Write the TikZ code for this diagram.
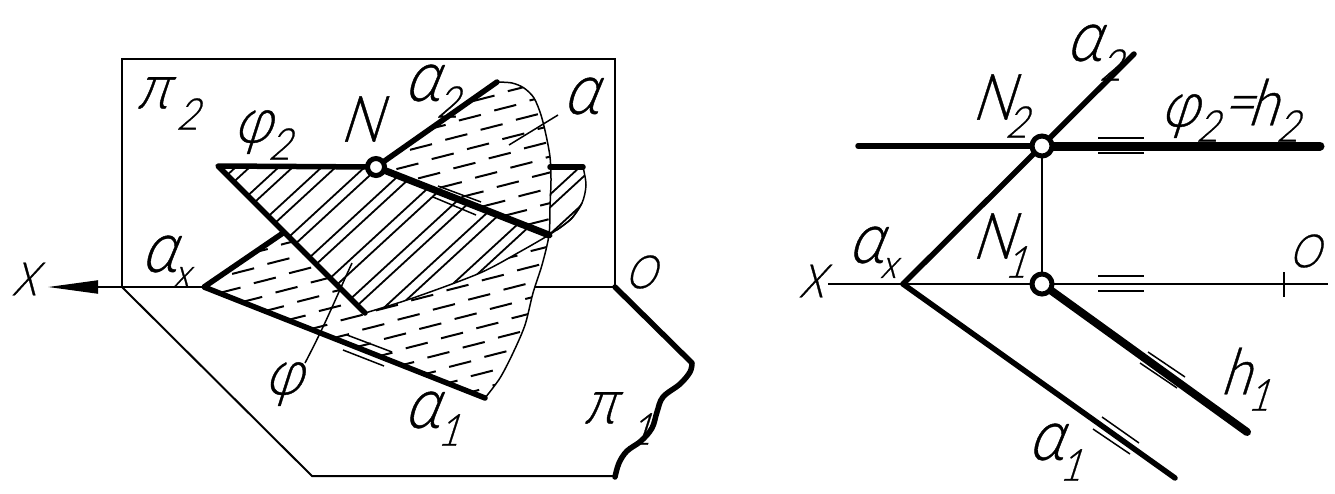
\documentclass[tikz,border=0pt]{standalone}
\usepackage{fontspec}
\usetikzlibrary{arrows.meta}
\newfontfamily\gost[FakeSlant=0.32,FakeStretch=0.85,FakeBold=0.6]{Lato Light}
\tikzset{
 thinl/.style={line width=2pt,line cap=butt},
 hair/.style={line width=1.5pt},
 thickl/.style={line width=5.5pt,line cap=round,line join=round},
 heavyl/.style={line width=9pt,line cap=round},
 hatchl/.style={line width=1.8pt},
 dashl/.style={line width=2pt},
 pt/.style={circle,draw,fill=white,line width=5pt,minimum size=20pt,inner sep=0pt},
 big/.style={inner sep=0pt,font=\gost\fontsize{64}{64}\selectfont},
 alf/.style={inner sep=0pt,font=\gost\fontsize{72}{72}\selectfont},
 sub/.style={inner sep=0pt,font=\gost\fontsize{44}{44}\selectfont},
 mid/.style={inner sep=0pt,font=\gost\fontsize{46}{46}\selectfont},
 nar/.style={inner sep=0pt,font=\gost\fontsize{46}{46}\selectfont},
 tiny/.style={inner sep=0pt,font=\gost\fontsize{40}{40}\selectfont},
}
\begin{document}
\begin{tikzpicture}[x=1pt,y=-1pt]
\useasboundingbox (0,0) rectangle (1335,493);
% ---------- left figure: key points
\coordinate (o) at (122,287); \coordinate (tl) at (122,59); \coordinate (tr) at (615,59);
\coordinate (ro) at (615,287); \coordinate (bl) at (312,476); \coordinate (br) at (615,476);
\coordinate (rr) at (692,363); \coordinate (ax) at (204,287); \coordinate (a2) at (497,82);
\coordinate (a1) at (485,398); \coordinate (f1) at (218,166); \coordinate (f2) at (365,313);
\coordinate (fr) at (583,167); \coordinate (fe) at (550,167); \coordinate (m) at (549,235);
\coordinate (a2c) at (283,233); \coordinate (ah) at (535,287); \coordinate (at) at (48,287);
% dashes, lower part of the plane
\begin{scope}
\clip (ax) -- (a2c) -- (f2) -- (413,298) -- (480,273) -- (523,250) -- (m) -- (542,265) -- (533,293) -- (525,325) -- (513,353) -- (500,378) -- (a1) -- cycle;
\foreach \m in {-8,...,8}{\foreach \n in {-12,...,8}{
 \draw[dashl] ({416.7+35.3*\m+21.7*\n-11},{345.5-10*\m+9.3*\n+2.8}) -- ++(22,-5.6);}}
\end{scope}
% dashes, upper part of the plane
\begin{scope}
\clip (376,167) -- (a2) -- (512,83) -- (524,88) -- (534,98) -- (541,115) -- (546,135) -- (550,157) -- (551,180) -- (550,207) -- (m) -- cycle;
\foreach \m in {-6,...,6}{\foreach \n in {-8,...,8}{
 \draw[dashl] ({442.7+35.3*\m+21.7*\n-11},{156.3-10*\m+9.3*\n+2.8}) -- ++(22,-5.6);}}
\end{scope}
% hatching of the triangle
\begin{scope}
\clip (f1) -- (376,167) -- (m) -- (523,250) -- (480,273) -- (413,298) -- (f2) -- cycle;
\foreach \k in {0,...,10}{
 \draw[hatchl] ({237+43*\k-200},{166+184}) -- ({237+43*\k+200},{166-184});
 \draw[hatchl] ({251+43*\k-200},{166+184}) -- ({251+43*\k+200},{166-184});}
\end{scope}
\begin{scope}
\clip (fe) -- (fr) -- (586,185) -- (582,203) -- (570,220) -- (m) -- cycle;
\foreach \k in {7,...,10}{
 \draw[hatchl] ({237+43*\k-200},{166+184}) -- ({237+43*\k+200},{166-184});
 \draw[hatchl] ({251+43*\k-200},{166+184}) -- ({251+43*\k+200},{166-184});}
\end{scope}
% frames
\draw[thinl] (ro) -- (tr) -- (tl) -- (o) -- (ax);
\draw[thinl] (ah) -- (ro);
\draw[thinl] (o) -- (bl) -- (br);
\draw[thinl,-{Triangle[length=50pt,width=13pt]}] (o) -- (at);
\draw[thickl] (ro) -- (rr) plot[smooth,tension=0.6] coordinates {(rr) (690,372) (680,384) (663,397) (657,412) (652,428) (641,441) (627,451) (619,463) (615,477)};
% curves
\draw[hair] plot[smooth] coordinates {(a2) (512,83) (524,88) (534,98) (541,115) (546,135) (550,157) (551,180) (550,207) (m) (542,265) (533,293) (525,325) (513,353) (500,378) (a1)};
\draw[hair] plot[smooth] coordinates {(f2) (413,298) (480,273) (523,250) (m)};
\draw[hair] plot[smooth] coordinates {(fr) (586,185) (582,203) (570,220) (m)};
\draw[hair] plot[smooth] coordinates {(582,203) (572,218) (557,230)};
% leaders and parallel marks
\coordinate (la1) at (558,115); \coordinate (la2) at (509,145);
\draw[hair] (la1) -- (la2);
\coordinate (lf1) at (352,263); \coordinate (lf2) at (305,363);
\draw[hair] (lf1) .. controls (335,300) and (325,325) .. (lf2);
\coordinate (t1a) at (347,335); \coordinate (t1b) at (392,352);
\coordinate (t2a) at (343,350); \coordinate (t2b) at (384,366);
\draw[hair] (t1a) -- (t1b); \draw[hair] (t2a) -- (t2b);
\coordinate (t3a) at (438,186); \coordinate (t3b) at (481,202);
\coordinate (t4a) at (433,197); \coordinate (t4b) at (476,215);
\draw[hair] (t3a) -- (t3b); \draw[hair] (t4a) -- (t4b);
% thick lines
\draw[thickl] (a2c) -- (ax) -- (a1);
\draw[thickl] (f2) -- (f1) -- (376,167);
\draw[thickl] (fe) -- (fr);
\draw[thickl] (376,167) -- (a2);
\draw[thickl,line width=7pt] (376,167) -- (m);
\node[pt,minimum size=17pt] (n) at (376,167) {};
% left labels
\node[big] (lp2) at (152,93) {π};  \node[sub] (lp2s) at (187,114) {2};
\node[big] (lf) at (252,132) {φ};  \node[sub] (lfs) at (279,144) {2};
\node[big] (ln) at (360,119) {N};
\node[alf] (la) at (421,83) {α};   \node[sub] (las) at (447,102) {2};
\node[alf] (lal) at (580,96) {α};
\node[mid] (lx) at (24,279) {X};
\node[alf] (lax) at (158,254) {α}; \node[tiny] (laxs) at (181,277) {x};
\node[nar] (lo) at (640,272) {O};
\node[big] (lphi) at (283,384) {φ};
\node[alf] (la1l) at (421,410) {α}; \node[sub] (la1s) at (448,430) {1};
\node[big] (lp1) at (599,408) {π};  \node[sub] (lp1s) at (640,429) {1};
% ---------- right figure
\coordinate (X) at (828,284); \coordinate (E) at (1328,284); \coordinate (A) at (903,284);
\coordinate (A2) at (1134,54); \coordinate (A1) at (1175,478);
\coordinate (L) at (858,146); \coordinate (R) at (1320,146); \coordinate (H) at (1247,432);
\coordinate (T1) at (1284,272); \coordinate (T2) at (1284,297);
\coordinate (N2c) at (1042,146); \coordinate (N1c) at (1042,284);
\draw[thinl] (X) -- (E);
\draw[thinl] (T1) -- (T2);
\draw[thinl] (N2c) -- (N1c);
\draw[thickl] (A) -- (A2);
\draw[thickl] (A) -- (A1);
\draw[thickl] (L) -- (N2c);
\draw[heavyl] (N2c) -- (R);
\draw[heavyl,line width=8pt] (N1c) -- (H);
\foreach \a/\b/\c/\d in {1098/138/1144/138,1098/153/1144/153,1098/276/1144/276,1098/291/1144/291,1148/352/1185/377,1140/363/1177/388,1102/417/1139/443,1093/429/1130/454}{
 \draw[hair] (\a,\b) -- (\c,\d);}
\node[pt] (N2) at (N2c) {};
\node[pt] (N1) at (N1c) {};
\node[alf] (ra2) at (1083,43) {α};   \node[sub] (ra2s) at (1110,65) {2};
\node[big] (rn2) at (992,97) {N};    \node[sub] (rn2s) at (1016,122) {2};
\node[big] (rf) at (1179,116) {φ};   \node[sub] (rfs) at (1207,126) {2};
\node[big] (req) at (1237,110) {=};
\node[big] (rh) at (1262,102) {h};   \node[sub] (rhs) at (1287,126) {2};
\node[alf] (rax) at (865,245) {α};   \node[tiny] (raxs) at (888,268) {x};
\node[mid] (rx) at (811,281) {X};
\node[big] (rn1) at (992,236) {N};   \node[sub] (rn1s) at (1015,262) {1};
\node[nar] (ro2) at (1304,251) {O};
\node[big] (rh1) at (1235,371) {h};  \node[sub] (rh1s) at (1258,395) {1};
\node[alf] (ra1) at (1045,442) {α};  \node[sub] (ra1s) at (1070,465) {1};
\end{tikzpicture}
\end{document}
